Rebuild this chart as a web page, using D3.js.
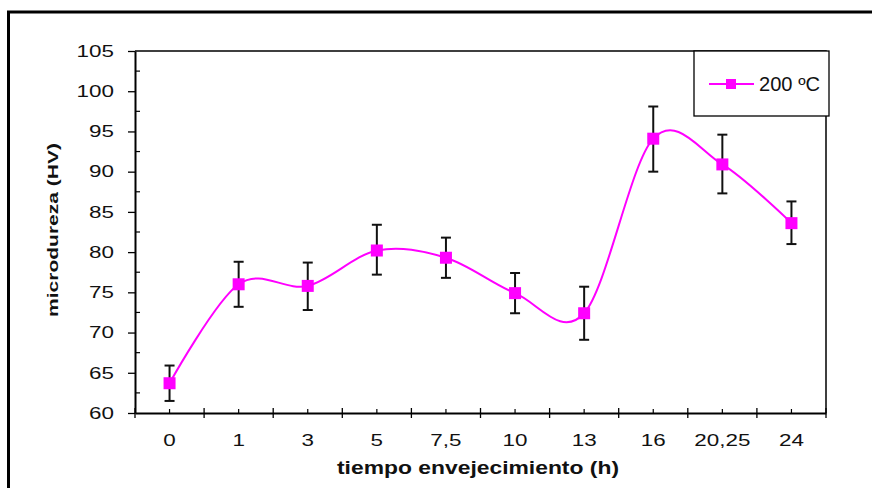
<!DOCTYPE html>
<html>
<head>
<meta charset="utf-8">
<script src="https://cdn.jsdelivr.net/npm/d3@7"></script>
<style>
  body { margin: 0; background: #fff; }
  svg { display: block; font-family: "Liberation Sans", Arial, sans-serif; }
</style>
</head>
<body>
<div id="chart"></div>
<script>
const width = 872;
const height = 488;
const margin = { top: 51, right: 46, bottom: 75, left: 135 }; // plot box inside the frame

// data
const hours = ["0", "1", "3", "5", "7,5", "10", "13", "16", "20,25", "24"];
const hardness = [63.7, 76.0, 75.8, 80.2, 79.3, 74.9, 72.4, 94.1, 90.9, 83.6];
const errHigh = [65.9, 78.8, 78.7, 83.4, 81.8, 77.4, 75.7, 98.1, 94.6, 86.3];
const errLow = [61.5, 73.2, 72.8, 77.2, 76.8, 72.4, 69.1, 90.0, 87.3, 81.0];
const yTicks = [60, 65, 70, 75, 80, 85, 90, 95, 100, 105];
const yMinor = [62.5, 67.5, 72.5, 77.5, 82.5, 87.5, 92.5, 97.5, 102.5];
const seriesName = "200 ºC";

const magenta = "#ff00ff";
const stretch = 1.36; // text in the source is drawn wide

const svg = d3.select("#chart").append("svg")
    .attr("width", width)
    .attr("height", height);

// outer frame (only top and left edges are visible in the picture)
svg.append("path")
    .attr("d", `M8.5,488 V12 H872`)
    .attr("fill", "none")
    .attr("stroke", "#000")
    .attr("stroke-width", 3);

const x = d3.scaleBand().domain(hours).range([margin.left, width - margin.right]);
const y = d3.scaleLinear().domain([60, 105]).range([height - margin.bottom, margin.top]);

const x0 = margin.left, x1 = width - margin.right;
const y0 = y(60), y1 = y(105);

// plot box top / right
svg.append("path")
    .attr("d", `M${x0},${y1} H${x1} V${y0}`)
    .attr("fill", "none")
    .attr("stroke", "#000")
    .attr("stroke-width", 1.5);

// y axis
const yAxis = svg.append("g")
    .attr("transform", `translate(${x0},0)`)
    .call(d3.axisLeft(y).tickValues(yTicks).tickSize(7).tickPadding(14).tickSizeOuter(0));
yAxis.select(".domain").attr("stroke-width", 2);
yAxis.selectAll(".tick line").attr("stroke-width", 1.3);
yAxis.selectAll("text")
    .attr("font-size", 16.5).attr("fill", "#111")
    .attr("font-family", "Liberation Sans, Arial, sans-serif")
    .attr("x", -21 / stretch)
    .attr("transform", `scale(${stretch},1)`);

svg.append("g").selectAll("line").data(yMinor).join("line")
    .attr("x1", x0).attr("x2", x0 + 5)
    .attr("y1", d => y(d)).attr("y2", d => y(d))
    .attr("stroke", "#000").attr("stroke-width", 1.2);

// x axis: labels only, ticks drawn at band edges
const xAxis = svg.append("g")
    .attr("transform", `translate(0,${y0})`)
    .call(d3.axisBottom(x).tickSize(0).tickPadding(21).tickSizeOuter(0));
xAxis.select(".domain").attr("stroke-width", 2);
xAxis.selectAll("text")
    .attr("font-size", 16.5).attr("fill", "#111")
    .attr("font-family", "Liberation Sans, Arial, sans-serif")
    .attr("transform", `scale(${stretch},1)`);

const edges = d3.range(hours.length + 1).map(i => x0 + i * x.step());
svg.append("g").selectAll("line").data(edges).join("line")
    .attr("x1", d => d).attr("x2", d => d)
    .attr("y1", y0 - 5).attr("y2", y0 + 5)
    .attr("stroke", "#000").attr("stroke-width", 1.3);

svg.append("g").selectAll("line").data(hours).join("line")
    .attr("x1", d => x(d) + x.bandwidth() / 2).attr("x2", d => x(d) + x.bandwidth() / 2)
    .attr("y1", y0 - 4).attr("y2", y0)
    .attr("stroke", "#000").attr("stroke-width", 1.2);

// axis titles
svg.append("text")
    .attr("x", 337)
    .attr("y", 474)
    .attr("font-size", 18)
    .attr("font-weight", "bold")
    .attr("fill", "#111")
    .attr("textLength", 282)
    .attr("lengthAdjust", "spacingAndGlyphs")
    .text("tiempo envejecimiento (h)");

svg.append("text")
    .attr("transform", `translate(58,317) rotate(-90)`)
    .attr("font-size", 15.5)
    .attr("font-weight", "bold")
    .attr("fill", "#111")
    .attr("textLength", 174)
    .attr("lengthAdjust", "spacingAndGlyphs")
    .text("microdureza (HV)");

const cx = i => x(hours[i]) + x.bandwidth() / 2;

// smoothed line
const line = d3.line()
    .x((d, i) => cx(i))
    .y(d => y(d))
    .curve(d3.curveCardinal.tension(0));

svg.append("path")
    .datum(hardness)
    .attr("d", line)
    .attr("fill", "none")
    .attr("stroke", magenta)
    .attr("stroke-width", 2);

// error bars
const eb = svg.append("g").attr("stroke", "#111").attr("stroke-width", 2);
hours.forEach((h, i) => {
    eb.append("line").attr("x1", cx(i)).attr("x2", cx(i))
        .attr("y1", y(errLow[i])).attr("y2", y(errHigh[i]));
    eb.append("line").attr("x1", cx(i) - 5).attr("x2", cx(i) + 5)
        .attr("y1", y(errLow[i])).attr("y2", y(errLow[i]));
    eb.append("line").attr("x1", cx(i) - 5).attr("x2", cx(i) + 5)
        .attr("y1", y(errHigh[i])).attr("y2", y(errHigh[i]));
});

// markers
svg.append("g").selectAll("rect").data(hardness).join("rect")
    .attr("x", (d, i) => cx(i) - 6)
    .attr("y", d => y(d) - 6)
    .attr("width", 12).attr("height", 12)
    .attr("fill", magenta);

// legend
const lg = svg.append("g").attr("transform", `translate(694,${y1})`);
lg.append("rect")
    .attr("width", 135).attr("height", 65)
    .attr("fill", "#fff").attr("stroke", "#000").attr("stroke-width", 1.3);
lg.append("line")
    .attr("x1", 15).attr("x2", 60).attr("y1", 33).attr("y2", 33)
    .attr("stroke", magenta).attr("stroke-width", 2);
lg.append("rect")
    .attr("x", 32).attr("y", 28).attr("width", 10).attr("height", 10)
    .attr("fill", magenta);
lg.append("text")
    .attr("x", 65).attr("y", 40)
    .attr("font-size", 19.5)
    .attr("fill", "#111")
    .attr("textLength", 61)
    .attr("lengthAdjust", "spacingAndGlyphs")
    .text(seriesName);
</script>
</body>
</html>
